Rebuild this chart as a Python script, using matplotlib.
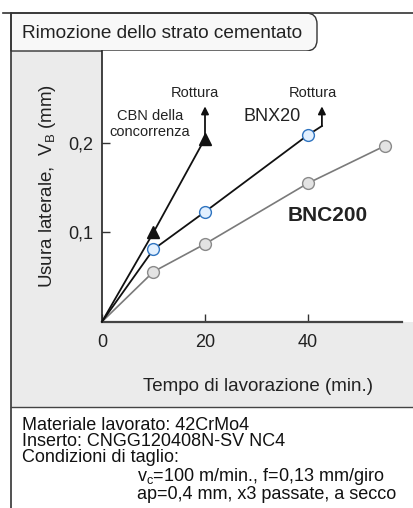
import matplotlib
matplotlib.use("Agg")
import matplotlib.pyplot as plt
from matplotlib.path import Path
from matplotlib.patches import PathPatch, Rectangle

# =========================================================
# DATI
# =========================================================
tempo = [0, 10, 20, 40]
bnx20 = [0, 0.081, 0.123, 0.209]

tempo_bnc = [0, 10, 20, 40, 55]
bnc200 = [0, 0.056, 0.087, 0.155, 0.197]

tempo_cbn = [0, 10, 20]
cbn = [0, 0.100, 0.205]

# rottura: coda della curva BNX20 e freccia verso l'alto
bnx20_coda_x = [40, 42.7]
bnx20_coda_y = [0.209, 0.219]
freccia_top = 0.241

xticks = [0, 20, 40]
yticks = [0.1, 0.2]
ytick_labels = ["0,1", "0,2"]

titolo = "Rimozione dello strato cementato"
note = ["Materiale lavorato: 42CrMo4",
        "Inserto: CNGG120408N-SV NC4",
        "Condizioni di taglio:"]
note_cond = [r"v$_\mathrm{c}$=100 m/min., f=0,13 mm/giro",
             "ap=0,4 mm, x3 passate, a secco"]

# -----------------------------
# STILE
# -----------------------------
plt.rcParams["font.family"] = ["Liberation Sans", "DejaVu Sans"]
plt.rcParams["mathtext.fontset"] = "custom"
plt.rcParams["mathtext.rm"] = "Liberation Sans"
plt.rcParams["mathtext.it"] = "Liberation Sans:italic"

W, H = 414, 508
fig = plt.figure(figsize=(W / 100, H / 100), dpi=100)

# sfondo / cornice in coordinate pixel
bg = fig.add_axes([0, 0, 1, 1], zorder=0)
bg.set_xlim(0, W)
bg.set_ylim(H, 0)
bg.axis("off")

bg.add_patch(Rectangle((11, 51), W - 11, 356, facecolor="#ebebeb", edgecolor="none"))

# riquadro del titolo con angoli arrotondati a destra
r = 11
verts = [(11, 13), (317 - r, 13), (317, 13), (317, 13 + r), (317, 51 - r),
         (317, 51), (317 - r, 51), (11, 51), (11, 13)]
codes = [Path.MOVETO, Path.LINETO, Path.CURVE3, Path.CURVE3, Path.LINETO,
         Path.CURVE3, Path.CURVE3, Path.LINETO, Path.CLOSEPOLY]
bg.add_patch(PathPatch(Path(verts, codes), facecolor="#f8f8f8",
                       edgecolor="#333333", lw=1.0))
bg.text(22, 33, titolo, fontsize=13.7, va="center", ha="left", color="#222222")

bg.plot([3, W], [13, 13], color="#333333", lw=1.2)
bg.plot([11, 11], [13, H], color="#333333", lw=1.2)
bg.plot([11, W], [407, 407], color="#444444", lw=1.0)

bg.text(22, 417, "\n".join(note), fontsize=13, va="top", ha="left",
        linespacing=0.92, color="#111111")
bg.text(137, 466, "\n".join(note_cond), fontsize=13, va="top", ha="left",
        linespacing=0.95, color="#111111")

# -----------------------------
# GRAFICO
# -----------------------------
x0, x1, y_top, y_bot = 102, 414, 51, 321.7
ax = fig.add_axes([x0 / W, 1 - y_bot / H, (x1 - x0) / W, (y_bot - y_top) / H], zorder=1)
ax.set_facecolor("white")
ax.set_xlim(0, (x1 - x0) / 5.15)
ax.set_ylim(0, (y_bot - y_top) / 893.5)

for s in ["top", "right"]:
    ax.spines[s].set_visible(False)
ax.spines["left"].set_color("#222222")
ax.spines["left"].set_linewidth(1.2)
ax.spines["bottom"].set_color("#444444")
ax.spines["bottom"].set_linewidth(1.6)
ax.spines["bottom"].set_bounds(0, 58.3)

ax.set_xticks(xticks)
ax.set_yticks(yticks)
ax.set_yticklabels(ytick_labels)
ax.tick_params(axis="both", direction="in", length=6, width=1.0, color="#333333",
               labelsize=13, labelcolor="#222222")
ax.tick_params(axis="x", pad=9)
ax.tick_params(axis="y", pad=6)

# curve
ax.plot(tempo_bnc, bnc200, color="#7a7a7a", lw=1.2, marker="o", ms=8.5,
        mfc="#e3e3e3", mec="#8a8a8a", mew=1.0, markevery=list(range(1, len(tempo_bnc))),
        clip_on=False, zorder=3)
ax.plot(tempo, bnx20, color="#111111", lw=1.3, marker="o", ms=8.5,
        mfc="#e2f0ff", mec="#2f74c0", mew=1.0, markevery=[1, 2, 3], clip_on=False, zorder=4)
ax.plot(bnx20_coda_x, bnx20_coda_y, color="#111111", lw=1.3, zorder=3)
ax.plot(tempo_cbn, cbn, color="#111111", lw=1.3, marker="^", ms=8,
        mfc="#111111", mec="#111111", markevery=[1, 2], clip_on=False, zorder=5)

# frecce di rottura
ax.annotate("", xy=(tempo_cbn[-1], freccia_top), xytext=(tempo_cbn[-1], cbn[-1]),
            arrowprops=dict(arrowstyle="-|>", color="#111111", lw=1.3,
                            mutation_scale=11, shrinkA=0, shrinkB=0))
ax.annotate("", xy=(bnx20_coda_x[-1], freccia_top), xytext=(bnx20_coda_x[-1], bnx20_coda_y[-1]),
            arrowprops=dict(arrowstyle="-|>", color="#111111", lw=1.3,
                            mutation_scale=11, shrinkA=0, shrinkB=0))

ax.text(18.0, 0.256, "Rottura", fontsize=10.5, ha="center", va="center", color="#222222")
ax.text(41.0, 0.256, "Rottura", fontsize=10.5, ha="center", va="center", color="#222222")
ax.text(9.3, 0.221, "CBN della\nconcorrenza", fontsize=10.5, ha="center", va="center",
        linespacing=1.15, color="#222222")
ax.text(33.0, 0.230, "BNX20", fontsize=13, ha="center", va="center", color="#222222")
ax.text(43.8, 0.119, "BNC200", fontsize=15, fontweight="bold", ha="center", va="center",
        color="#222222")

ax.set_xlabel("Tempo di lavorazione (min.)", fontsize=13.5, labelpad=19, color="#222222")
ax.set_ylabel(r"Usura laterale,  V$_\mathrm{B}$ (mm)", fontsize=13.5, labelpad=8,
              color="#222222")

fig.savefig("out.png", dpi=100)
